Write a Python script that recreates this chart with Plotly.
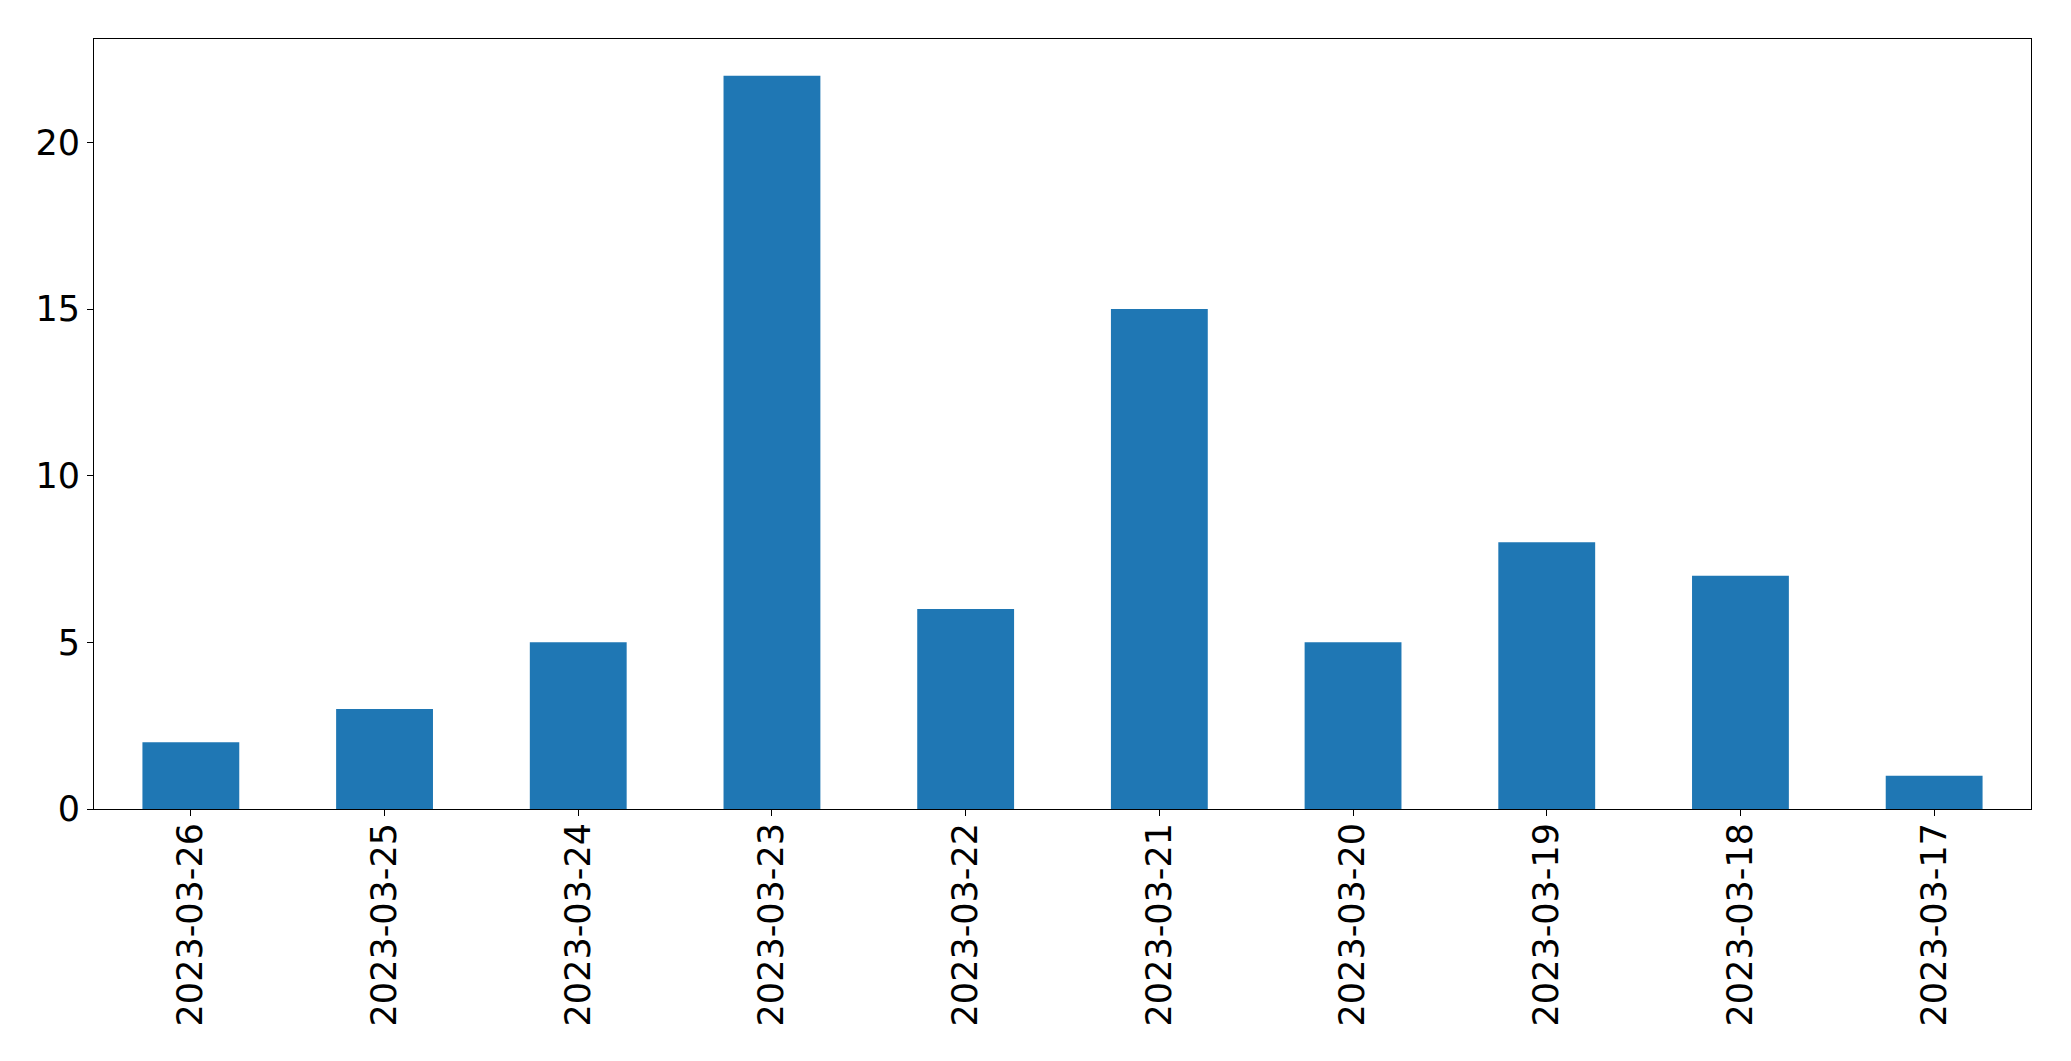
import plotly.graph_objects as go

dates = ["2023-03-26", "2023-03-25", "2023-03-24", "2023-03-23", "2023-03-22",
         "2023-03-21", "2023-03-20", "2023-03-19", "2023-03-18", "2023-03-17"]
counts = [2, 3, 5, 22, 6, 15, 5, 8, 7, 1]
y_ticks = [0, 5, 10, 15, 20]

fig = go.Figure(go.Bar(x=dates, y=counts, width=0.5, marker=dict(color="#1f77b4", line=dict(width=0))))

fig.update_layout(
    width=2071, height=1061,
    margin=dict(l=94, r=40, t=39, b=252),
    plot_bgcolor="white", paper_bgcolor="white",
    font=dict(family="DejaVu Sans", size=35, color="black"),
    showlegend=False,
)
fig.update_xaxes(
    type="category", range=[-0.5, 9.5], tickangle=-90,
    showline=True, linecolor="black", linewidth=1, mirror=True,
    ticks="outside", ticklen=6, tickcolor="black", tickwidth=1,
    showgrid=False, zeroline=False, ticklabelstandoff=-7,
)
fig.update_yaxes(
    range=[0, 23.1], tickvals=y_ticks,
    showline=True, linecolor="black", linewidth=1, mirror=True,
    ticks="outside", ticklen=6, tickcolor="black", tickwidth=1,
    showgrid=False, zeroline=False,
)
fig.write_html("out.html", config={"displayModeBar": False},
               post_script="document.body.style.margin='0';document.body.style.overflow='hidden';")
